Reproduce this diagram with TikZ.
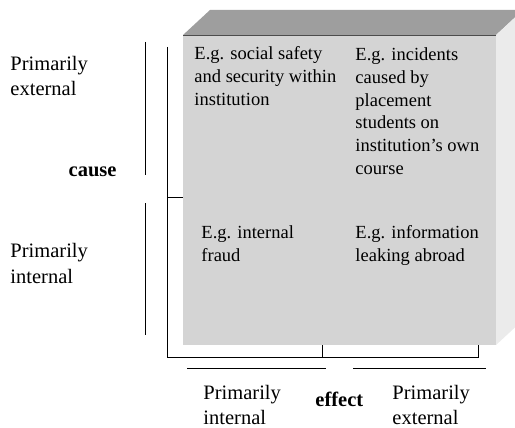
\documentclass[tikz,border=0pt]{standalone}
\usepackage{fontspec}
\setmainfont{Liberation Serif}
\usetikzlibrary{calc}
\usepackage{xcolor}
\definecolor{frontgray}{gray}{0.83}
\definecolor{topgray}{gray}{0.62}
\definecolor{sidegray}{gray}{0.92}

\begin{document}
\begin{tikzpicture}[x=1pt, y=-1pt, line width=0.9pt,
    every node/.style={inner sep=0pt, align=left, anchor=base west},
    outer/.style={font=\fontsize{20.5}{25}\selectfont},
    inner/.style={font=\fontsize{18.5}{23}\selectfont}]
      \useasboundingbox (0,0) rectangle (515,428);
      % box
      \coordinate (corner) at (183,35);
      \coordinate (width) at (313,0);
      \coordinate (height) at (0,310);
      \coordinate (depth) at (27,-25);

      \fill [topgray] (corner) -- ($(corner) + (depth)$) --
      ($(corner) + (width) + (depth)$) -- ($(corner) + (width)$) -- cycle;
      \fill [sidegray] ($(corner) + (width)$) -- ($(corner) + (width) + (depth)$) --
      ($(corner) + (width) + (height) + (depth)$) -- ($(corner) + (width) + (height)$) -- cycle;
      \fill [frontgray] (corner) rectangle ($(corner) + (width) + (height)$);
      \draw [-, black!70, line width=0.6pt] (corner) -- ($(corner) + (width)$);

      % brackets
      \coordinate (left_top) at (167,47);
      \coordinate (left_bottom) at (167,357);
      \coordinate (right_bottom) at (478,357);
      \draw [-] (left_top) -- (left_bottom) -- (right_bottom) -- ($(right_bottom) + (0,-12)$);
      \draw [-] ($(left_top) + (0,150)$) -- ($(left_top) + (16,150)$);
      \draw [-] (322,357) -- (322,345);

      \draw [-] (145,42) -- (145,175);
      \draw [-] (145,203) -- (145,335);
      \draw [-] (187,368) -- (326,368);
      \draw [-] (353,368) -- (486,368);

      % cells (base = last line)
      \node [inner, name=cell_ext_int] at (194,106)
      {E.g. social safety\\and security within\\institution};
      \node [inner, name=cell_ext_ext] at (355,175)
      {E.g. incidents\\caused by\\placement\\students on\\institution's own\\course};
      \node [inner, name=cell_int_int] at (201,261) {E.g. internal\\fraud};
      \node [inner, name=cell_int_ext] at (355,261) {E.g. information\\leaking abroad};

      % axis labels
      \node [outer, name=cause_ext] at (10,96) {Primarily\\external};
      \node [outer, name=cause_int] at (10,283) {Primarily\\internal};
      \node [outer, anchor=base east, font=\fontsize{20.5}{25}\selectfont\bfseries, name=cause] at (117,177) {cause};
      \node [outer, name=effect_int] at (203,424) {Primarily\\internal};
      \node [outer, name=effect_ext] at (392,424) {Primarily\\external};
      \node [outer, font=\fontsize{20.5}{25}\selectfont\bfseries, name=effect] at (315,406) {effect};
    \end{tikzpicture}
\end{document}
